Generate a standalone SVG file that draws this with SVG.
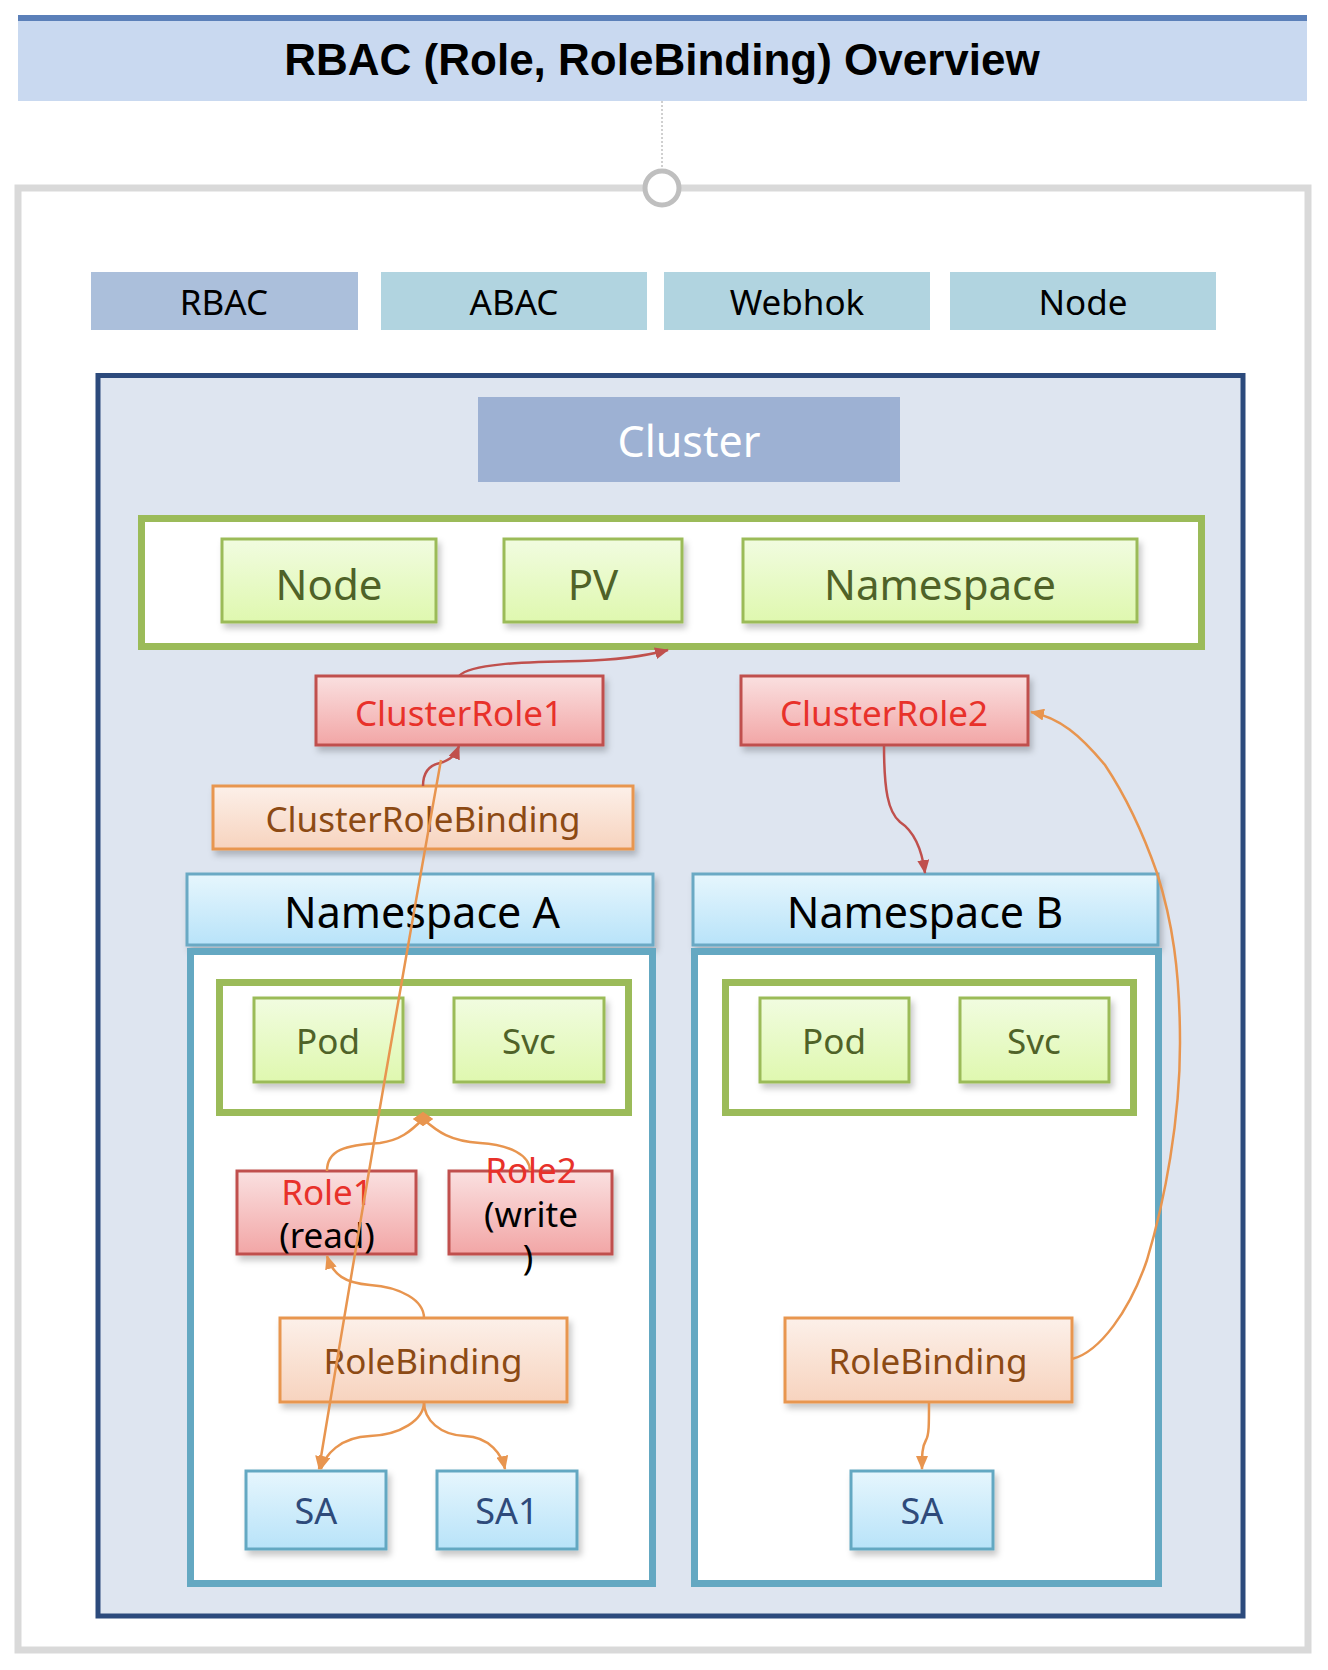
<svg xmlns="http://www.w3.org/2000/svg" width="1328" height="1670" viewBox="0 0 1328 1670">
<defs>
<style>
.t{font-family:"Noto Sans","Open Sans","Liberation Sans",sans-serif;text-anchor:middle}
.title{font-family:"Liberation Sans",Arial,sans-serif;font-weight:bold;font-size:44px;text-anchor:middle;fill:#000}
.tab{font-size:35px;fill:#000}
.grn{fill:url(#gG);stroke:#9BBB59;stroke-width:3}
.gtx{font-size:42px;fill:#4F6228}
.gtxs{font-size:35px;fill:#4F6228}
.red{fill:url(#gR);stroke:#C0504D;stroke-width:3}
.rtx{font-size:35px;fill:#E8312A}
.org{fill:url(#gO);stroke:#E8964F;stroke-width:3}
.otx{font-size:35px;fill:#8C4A14}
.nsh{fill:url(#gB);stroke:#6AA9C4;stroke-width:3}
.nstx{font-size:43px;fill:#000}
.nsb{fill:#fff;stroke:#64A8C2;stroke-width:7}
.gbox{fill:#fff;stroke:#9BBB59;stroke-width:7}
.sa{fill:url(#gB);stroke:#64A8C2;stroke-width:3}
.satx{font-size:36px;fill:#2E4A7A}
.blk{font-size:35px;fill:#000}
.cr{fill:none;stroke:#C0504D;stroke-width:2.5}
.co{fill:none;stroke:#E8954F;stroke-width:2.5}
</style>
<linearGradient id="gG" x1="0" y1="0" x2="0" y2="1"><stop offset="0" stop-color="#F1FCE0"/><stop offset="1" stop-color="#DFF8AF"/></linearGradient>
<linearGradient id="gR" x1="0" y1="0" x2="0" y2="1"><stop offset="0" stop-color="#FAE0E0"/><stop offset="1" stop-color="#F2A6A6"/></linearGradient>
<linearGradient id="gO" x1="0" y1="0" x2="0" y2="1"><stop offset="0" stop-color="#FCF0E9"/><stop offset="1" stop-color="#F7D3BE"/></linearGradient>
<linearGradient id="gB" x1="0" y1="0" x2="0" y2="1"><stop offset="0" stop-color="#E6F6FD"/><stop offset="1" stop-color="#B8E3F9"/></linearGradient>
<filter id="sh" x="-10%" y="-10%" width="130%" height="140%"><feDropShadow dx="3" dy="5" stdDeviation="3" flood-color="#000" flood-opacity="0.22"/></filter>
<marker id="aR" markerUnits="userSpaceOnUse" markerWidth="14" markerHeight="12" refX="13" refY="6" orient="auto"><path d="M0,0 L14,6 L0,12 z" fill="#C0504D"/></marker>
<marker id="aO" markerUnits="userSpaceOnUse" markerWidth="14" markerHeight="12" refX="13" refY="6" orient="auto"><path d="M0,0 L14,6 L0,12 z" fill="#E8954F"/></marker>
<marker id="dO" markerUnits="userSpaceOnUse" markerWidth="20" markerHeight="14" refX="10" refY="7" orient="0"><path d="M0,7 L10,0 L20,7 L10,14 z" fill="#E8954F"/></marker>
</defs>

<g id="title">
<rect x="18" y="15" width="1289" height="86" fill="#C9D9F0"/>
<rect x="18" y="15" width="1289" height="6" fill="#5B80B9"/>
<text class="title" x="662" y="75">RBAC (Role, RoleBinding) Overview</text>
</g>

<g id="outer">
<rect x="18" y="188" width="1290" height="1462" fill="#fff" stroke="#D9D9D9" stroke-width="7"/>
</g>

<g id="tabs">
<g id="tab-rbac"><rect x="91" y="272" width="267" height="58" fill="#ABBFDB"/><text class="t tab" x="224" y="315">RBAC</text></g>
<g id="tab-abac"><rect x="381" y="272" width="266" height="58" fill="#B1D4E0"/><text class="t tab" x="514" y="315">ABAC</text></g>
<g id="tab-webhok"><rect x="664" y="272" width="266" height="58" fill="#B1D4E0"/><text class="t tab" x="797" y="315">Webhok</text></g>
<g id="tab-node"><rect x="950" y="272" width="266" height="58" fill="#B1D4E0"/><text class="t tab" x="1083" y="315">Node</text></g>
</g>

<g id="cluster">
<rect x="98" y="375.5" width="1145" height="1240.5" fill="#DEE5F0" stroke="#2C4A7C" stroke-width="5"/>
<rect x="478" y="397" width="422" height="85" fill="#9DB1D3"/>
<text class="t" x="689" y="457" font-size="43" fill="#fff">Cluster</text>
</g>

<g id="cluster-resources">
<rect class="gbox" x="141.5" y="518.5" width="1060" height="128"/>
</g>
<g id="node-node"><rect class="grn" x="222" y="539" width="214" height="83" filter="url(#sh)"/><text class="t gtx" x="329" y="600">Node</text></g>
<g id="node-pv"><rect class="grn" x="504" y="539" width="178" height="83" filter="url(#sh)"/><text class="t gtx" x="593" y="600">PV</text></g>
<g id="node-namespace"><rect class="grn" x="743" y="539" width="394" height="83" filter="url(#sh)"/><text class="t gtx" x="940" y="600">Namespace</text></g>

<g id="clusterrole1"><rect class="red" x="316" y="676" width="287" height="69" filter="url(#sh)"/><text class="t rtx" x="459" y="726">ClusterRole1</text></g>
<g id="clusterrole2"><rect class="red" x="741" y="676" width="287" height="69" filter="url(#sh)"/><text class="t rtx" x="884" y="726">ClusterRole2</text></g>
<g id="clusterrolebinding"><rect class="org" x="213" y="786" width="420" height="63" filter="url(#sh)"/><text class="t otx" x="423" y="832">ClusterRoleBinding</text></g>

<g id="namespace-a">
<rect class="nsh" x="187" y="874" width="466" height="71" filter="url(#sh)"/>
<text class="t nstx" x="422" y="928">Namespace A</text>
<rect class="nsb" x="190.5" y="951.5" width="462" height="632"/>
<rect class="gbox" x="219.5" y="982.5" width="409" height="130"/>
</g>
<g id="pod-a"><rect class="grn" x="254" y="998" width="149" height="84" filter="url(#sh)"/><text class="t gtxs" x="328" y="1054">Pod</text></g>
<g id="svc-a"><rect class="grn" x="454" y="998" width="150" height="84" filter="url(#sh)"/><text class="t gtxs" x="529" y="1054">Svc</text></g>
<g id="role1"><rect class="red" x="237" y="1171" width="179" height="83" filter="url(#sh)"/><text class="t rtx" x="327" y="1205">Role1</text><text class="t blk" x="327" y="1248">(read)</text></g>
<g id="role2"><rect class="red" x="449" y="1171" width="163" height="83" filter="url(#sh)"/><text class="t rtx" x="531" y="1183">Role2</text><text class="t blk" x="531" y="1227">(write</text><text class="t blk" x="528" y="1270">)</text></g>
<g id="rolebinding-a"><rect class="org" x="280" y="1318" width="287" height="84" filter="url(#sh)"/><text class="t otx" x="423" y="1374">RoleBinding</text></g>
<g id="sa-a"><rect class="sa" x="246" y="1471" width="140" height="78" filter="url(#sh)"/><text class="t satx" x="316" y="1524">SA</text></g>
<g id="sa1-a"><rect class="sa" x="437" y="1471" width="140" height="78" filter="url(#sh)"/><text class="t satx" x="507" y="1524">SA1</text></g>

<g id="namespace-b">
<rect class="nsh" x="693" y="874" width="465" height="71" filter="url(#sh)"/>
<text class="t nstx" x="925" y="928">Namespace B</text>
<rect class="nsb" x="694.5" y="951.5" width="464" height="632"/>
<rect class="gbox" x="725.5" y="982.5" width="408" height="130"/>
</g>
<g id="pod-b"><rect class="grn" x="760" y="998" width="149" height="84" filter="url(#sh)"/><text class="t gtxs" x="834" y="1054">Pod</text></g>
<g id="svc-b"><rect class="grn" x="960" y="998" width="149" height="84" filter="url(#sh)"/><text class="t gtxs" x="1034" y="1054">Svc</text></g>
<g id="rolebinding-b"><rect class="org" x="785" y="1318" width="287" height="84" filter="url(#sh)"/><text class="t otx" x="928" y="1374">RoleBinding</text></g>
<g id="sa-b"><rect class="sa" x="851" y="1471" width="142" height="78" filter="url(#sh)"/><text class="t satx" x="922" y="1524">SA</text></g>

<g id="connectors">
<line x1="662" y1="101" x2="662" y2="171" stroke="#A0A0A0" stroke-width="1" stroke-dasharray="2,2"/>
<circle cx="662" cy="188" r="17" fill="#fff" stroke="#BFBFBF" stroke-width="5"/>
<path class="cr" d="M459 676 C 470 664 520 662 580 661 C 620 660 645 656 668 650" marker-end="url(#aR)"/>
<path class="cr" d="M423 786 C 423 772 430 765 440 763 C 450 760 455 756 459 746" marker-end="url(#aR)"/>
<path class="cr" d="M884 745 C 884 790 888 812 900 822 C 915 832 922 850 925 873" marker-end="url(#aR)"/>
<path class="co" d="M441 760 Q 380 1100 319 1469" marker-end="url(#aO)"/>
<path class="co" d="M327 1171 C 327 1150 345 1145 380 1143 C 400 1140 410 1132 423 1119" marker-end="url(#dO)"/>
<path class="co" d="M530 1171 C 530 1155 510 1145 480 1143 C 450 1141 438 1132 423 1119" marker-end="url(#dO)"/>
<path class="co" d="M424 1318 C 424 1300 400 1287 370 1285 C 345 1283 333 1275 327 1256" marker-end="url(#aO)"/>
<path class="co" d="M424 1402 C 424 1420 400 1435 370 1436 C 340 1437 325 1455 321 1469" marker-end="url(#aO)"/>
<path class="co" d="M424 1402 C 424 1420 440 1435 465 1436 C 490 1437 502 1455 505 1469" marker-end="url(#aO)"/>
<path class="co" d="M929 1402 C 929 1425 929 1435 926 1440 C 922 1447 922 1455 922 1469" marker-end="url(#aO)"/>
<path class="co" d="M1072 1359 C 1100 1352 1130 1310 1147 1260 C 1165 1200 1180 1120 1180 1043 C 1180 970 1172 920 1157 873 C 1143 833 1125 795 1105 765 C 1080 735 1060 718 1031 712" marker-end="url(#aO)"/>
</g>
</svg>
